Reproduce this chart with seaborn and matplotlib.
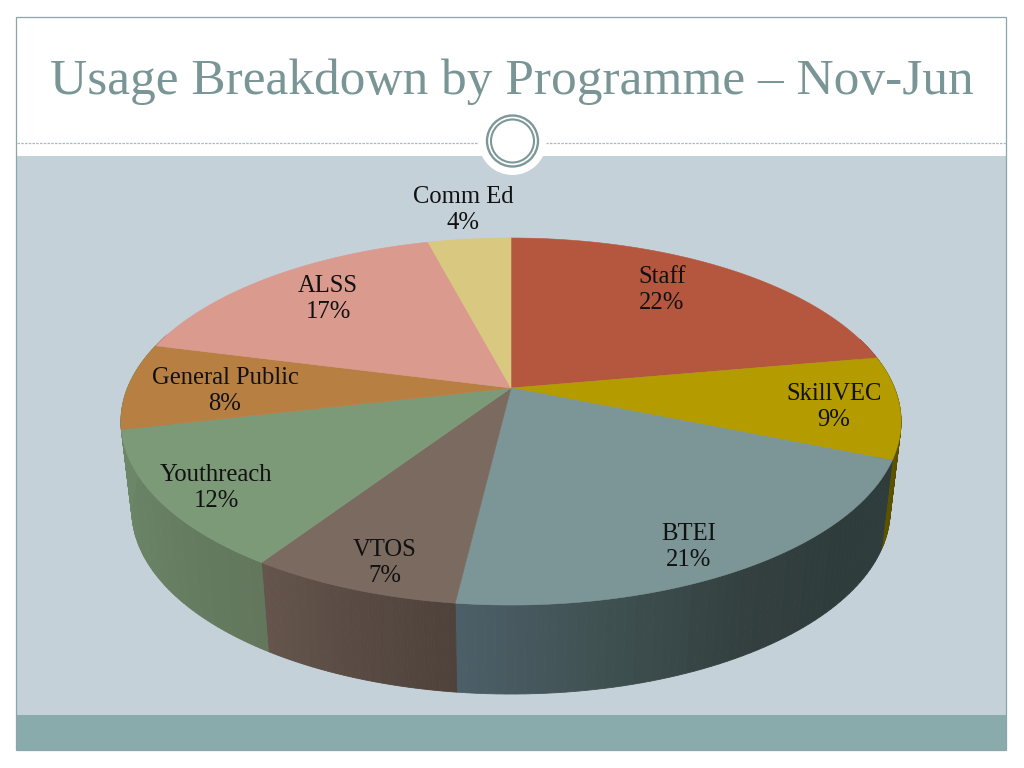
import numpy as np
import matplotlib
matplotlib.use("Agg")
import matplotlib.pyplot as plt
from matplotlib.patches import Circle, Rectangle
import seaborn as sns

# values, slice sizes estimated to fit the printed percentages
programmes = ["Staff", "SkillVEC", "BTEI", "VTOS", "Youthreach", "General Public", "ALSS", "Comm Ed"]
usage = [22.2, 9.0, 20.7, 7.4, 12.1, 7.6, 16.9, 4.1]

top_colours = ["#B5573F", "#B39B00", "#7C9597", "#7B6A60", "#7D9A78", "#B87F43", "#DA9A8E", "#D8C880"]
# rim shades, going clockwise through each slice
rim_shades = [
    ["#7A3A2A", "#7A3A2A"],
    ["#4A4000", "#5E5300"],
    ["#2F3C3C", "#2F3C3C", "#33403F", "#3F5050", "#4C5F68"],
    ["#4E423A", "#64544C"],
    ["#62775C", "#6C8668"],
    ["#6C8668", "#6C8668"],
    ["#8A6058", "#8A6058"],
    ["#8A8050", "#8A8050"],
]

# label centres in slide pixels
label_xy = [(662, 290), (834, 407), (689, 547), (385, 563), (216, 488), (225, 391), (328, 299), (463, 210)]

title = "Usage Breakdown by Programme \u2013 Nov-Jun"

sns.set_theme(style="white")
plt.rcParams["font.family"] = ["Liberation Serif", "DejaVu Serif"]

PANEL = "#C5D1D8"
BAND = "#8AABAC"
TITLE_COL = "#7A9595"
FRAME = "#8DA5A8"

fig = plt.figure(figsize=(10.24, 7.68), dpi=100, facecolor="white")
ax = fig.add_axes([0, 0, 1, 1])
ax.set_xlim(0, 1024)
ax.set_ylim(768, 0)
ax.axis("off")

# slide background
ax.add_patch(Rectangle((16.5, 156), 989.5, 559, fc=PANEL, ec="none", zorder=1))
ax.add_patch(Rectangle((16.5, 715), 989.5, 35, fc=BAND, ec="none", zorder=1))
ax.add_patch(Rectangle((16, 17), 990, 733, fc="none", ec=FRAME, lw=0.9, zorder=2))
ax.plot([17, 1006], [143, 143], color="#A8BABC", lw=0.9, ls=(0, (2, 1)), zorder=2)
ax.add_patch(Circle((512.5, 141), 34, fc="white", ec="none", zorder=3))
ax.add_patch(Circle((512.5, 141), 25.5, fc="white", ec="#7E9899", lw=1.7, zorder=4))
ax.add_patch(Circle((512.5, 141), 21.5, fc="white", ec="#7E9899", lw=1.5, zorder=4))

ax.text(511.5, 94, title, color=TITLE_COL, fontsize=37, ha="center", va="baseline", zorder=5)


# tilted disc with a bit of perspective
def top_xy(theta):
    u, v = np.sin(theta), np.cos(theta)
    w = 1 + 0.1826 * v
    return 511 + 383.5 * u / w, 388 - 177.4 * v / w


def bottom_xy(x, y):
    return 510 + (x - 510) * 0.972, y + 89


edges = np.cumsum([0] + usage) / np.sum(usage) * 2 * np.pi
top_palette = sns.color_palette(top_colours)

# rim first, the top face covers what is hidden
for i in range(len(usage)):
    th = np.linspace(edges[i], edges[i + 1], 61)
    x, y = top_xy(th)
    bx, by = bottom_xy(x, y)
    shades = sns.blend_palette(rim_shades[i], 60)
    for j in range(60):
        if np.cos(th[j]) > 0.3:
            continue
        ax.fill([x[j], x[j + 1], bx[j + 1], bx[j]], [y[j], y[j + 1], by[j + 1], by[j]],
                fc=shades[j], ec=shades[j], lw=0.6, zorder=6)

for i in range(len(usage)):
    th = np.linspace(edges[i], edges[i + 1], 120)
    x, y = top_xy(th)
    ax.fill(np.r_[511, x], np.r_[388, y], fc=top_palette[i], ec=top_palette[i], lw=0.4, zorder=7)

for i, name in enumerate(programmes):
    lx, ly = label_xy[i]
    ax.text(lx, ly, "%s\n%.0f%%" % (name, usage[i]), color="#111111", fontsize=17.7, ha="center", va="center",
            linespacing=1.25, zorder=8)

fig.savefig("out.png", dpi=100, facecolor="white")
